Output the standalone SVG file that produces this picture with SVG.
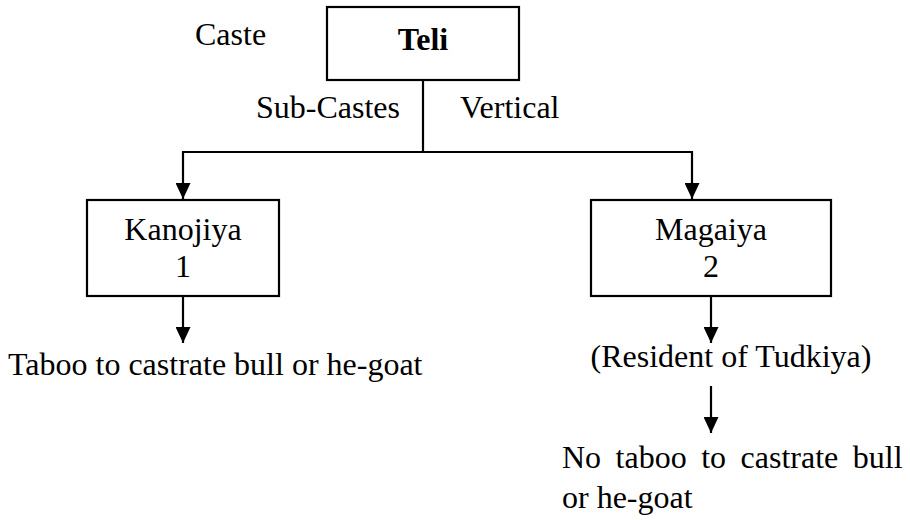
<svg xmlns="http://www.w3.org/2000/svg" width="910" height="520" viewBox="0 0 910 520">
<style>
text{font-family:"Liberation Serif","Times New Roman",serif;font-size:32px;fill:#000}
.box{fill:#fff;stroke:#000;stroke-width:2.2}
.ln{fill:none;stroke:#000;stroke-width:2.2}
.b{font-weight:bold}
.c{text-anchor:middle}
</style>
<defs>
<marker id="ah" markerWidth="16" markerHeight="15" refX="16" refY="7.5" orient="auto" markerUnits="userSpaceOnUse">
<path d="M0,0 L16,7.5 L0,15 Z" fill="#000"/>
</marker>
</defs>
<rect width="910" height="520" fill="#fff"/>
<g id="connectors">
<line class="ln" x1="423" y1="80" x2="423" y2="152"/>
<line class="ln" x1="183" y1="152" x2="692" y2="152"/>
<line class="ln" x1="183" y1="151" x2="183" y2="199" marker-end="url(#ah)"/>
<line class="ln" x1="692" y1="151" x2="692" y2="199" marker-end="url(#ah)"/>
<line class="ln" x1="183" y1="296" x2="183" y2="343" marker-end="url(#ah)"/>
<line class="ln" x1="711" y1="296" x2="711" y2="343" marker-end="url(#ah)"/>
<line class="ln" x1="711" y1="386" x2="711" y2="433" marker-end="url(#ah)"/>
</g>
<g id="caste-label"><text x="195" y="45">Caste</text></g>
<g id="teli"><rect class="box" x="327" y="7" width="192" height="73"/><text class="b c" x="423" y="50">Teli</text></g>
<g id="subcastes-label"><text x="256" y="118">Sub-Castes</text></g>
<g id="vertical-label"><text x="460" y="118">Vertical</text></g>
<g id="kanojiya"><rect class="box" x="87" y="200" width="192" height="96"/><text class="c" x="183" y="240">Kanojiya</text><text class="c" x="183" y="277">1</text></g>
<g id="magaiya"><rect class="box" x="591" y="200" width="240" height="96"/><text class="c" x="711" y="240">Magaiya</text><text class="c" x="711" y="277">2</text></g>
<g id="taboo"><text x="8" y="375">Taboo to castrate bull or he-goat</text></g>
<g id="resident"><text class="c" x="731" y="367">(Resident of Tudkiya)</text></g>
<g id="no-taboo"><text x="562" y="468" word-spacing="6.5">No taboo to castrate bull</text><text x="562" y="508">or he-goat</text></g>
</svg>
